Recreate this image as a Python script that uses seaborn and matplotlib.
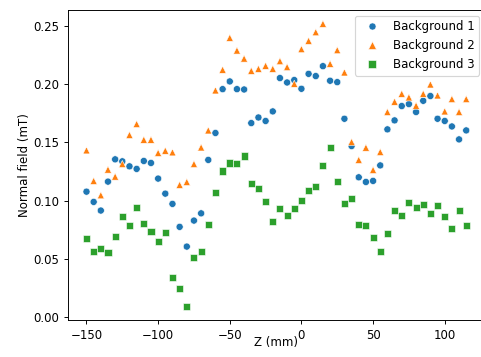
import numpy as np
import pandas as pd
import matplotlib
matplotlib.use("Agg")
import matplotlib.pyplot as plt
import seaborn as sns

z_mm = list(range(-150, 120, 5))

background_1 = [
    0.1076, 0.0988, 0.0914, 0.1162, 0.1353, 0.1336, 0.1293, 0.1271, 0.1339, 0.1322,
    0.1188, 0.1059, 0.0971, 0.0774, 0.0605, 0.0828, 0.0890, 0.1348, 0.1579, 0.1955,
    0.2021, 0.1955, 0.1952, 0.1664, 0.1712, 0.1682, 0.1764, 0.2050, 0.2012, 0.2033,
    0.1958, 0.2086, 0.2067, 0.2152, 0.2027, 0.2015, 0.1701, 0.1467, 0.1199, 0.1159,
    0.1168, 0.1301, 0.1610, 0.1687, 0.1810, 0.1827, 0.1759, 0.1855, 0.1896, 0.1701,
    0.1682, 0.1635, 0.1524, 0.1601,
]
background_2 = [
    0.1430, 0.1168, 0.1045, 0.1265, 0.1205, 0.1313, 0.1562, 0.1656, 0.1521, 0.1521,
    0.1408, 0.1427, 0.1413, 0.1134, 0.1159, 0.1313, 0.1455, 0.1601, 0.1944, 0.2121,
    0.2395, 0.2286, 0.2217, 0.2112, 0.2129, 0.2155, 0.2129, 0.2195, 0.2144, 0.2001,
    0.2298, 0.2369, 0.2443, 0.2515, 0.2172, 0.2289, 0.2098, 0.1502, 0.1348, 0.1453,
    0.1262, 0.1416, 0.1759, 0.1847, 0.1915, 0.1884, 0.1813, 0.1915, 0.1995, 0.1901,
    0.1764, 0.1870, 0.1759, 0.1870,
]
background_3 = [
    0.0676, 0.0565, 0.0591, 0.0557, 0.0691, 0.0862, 0.0788, 0.0942, 0.0802, 0.0736,
    0.0651, 0.0725, 0.0340, 0.0246, 0.0094, 0.0514, 0.0560, 0.0794, 0.1068, 0.1253,
    0.1322, 0.1318, 0.1382, 0.1147, 0.1104, 0.0991, 0.0819, 0.0931, 0.0871, 0.0928,
    0.0999, 0.1085, 0.1122, 0.1299, 0.1455, 0.1162, 0.0973, 0.1016, 0.0796, 0.0785,
    0.0685, 0.0565, 0.0719, 0.0916, 0.0873, 0.0985, 0.0939, 0.0965, 0.0888, 0.0956,
    0.0862, 0.0762, 0.0914, 0.0788,
]
series_names = ["Background 1", "Background 2", "Background 3"]

frames = []
for name, vals in zip(series_names, [background_1, background_2, background_3]):
    frames.append(pd.DataFrame({"z": z_mm, "field": vals, "series": name}))
df = pd.concat(frames, ignore_index=True)

W, H = 481, 357
DPI = 85
fig = plt.figure(figsize=(W / DPI, H / DPI), dpi=DPI)
ax = fig.add_axes([67.5 / W, 1 - 320.3 / H, (485.2 - 67.5) / W, (320.3 - 9.7) / H])

palette = {"Background 1": "#1f77b4", "Background 2": "#ff7f0e", "Background 3": "#2ca02c"}
markers = {"Background 1": "o", "Background 2": "^", "Background 3": "s"}
sns.scatterplot(data=df, x="z", y="field", hue="series", style="series",
                palette=palette, markers=markers, s=36, ax=ax)

ax.set_yticks([0.0, 0.05, 0.10, 0.15, 0.20, 0.25])
ax.set_xlabel("Z (mm)", labelpad=-4.5)
ax.set_ylabel("Normal field (mT)", labelpad=2)
ax.legend(title=None, loc="upper right")

fig.savefig("out.png", dpi=DPI)
